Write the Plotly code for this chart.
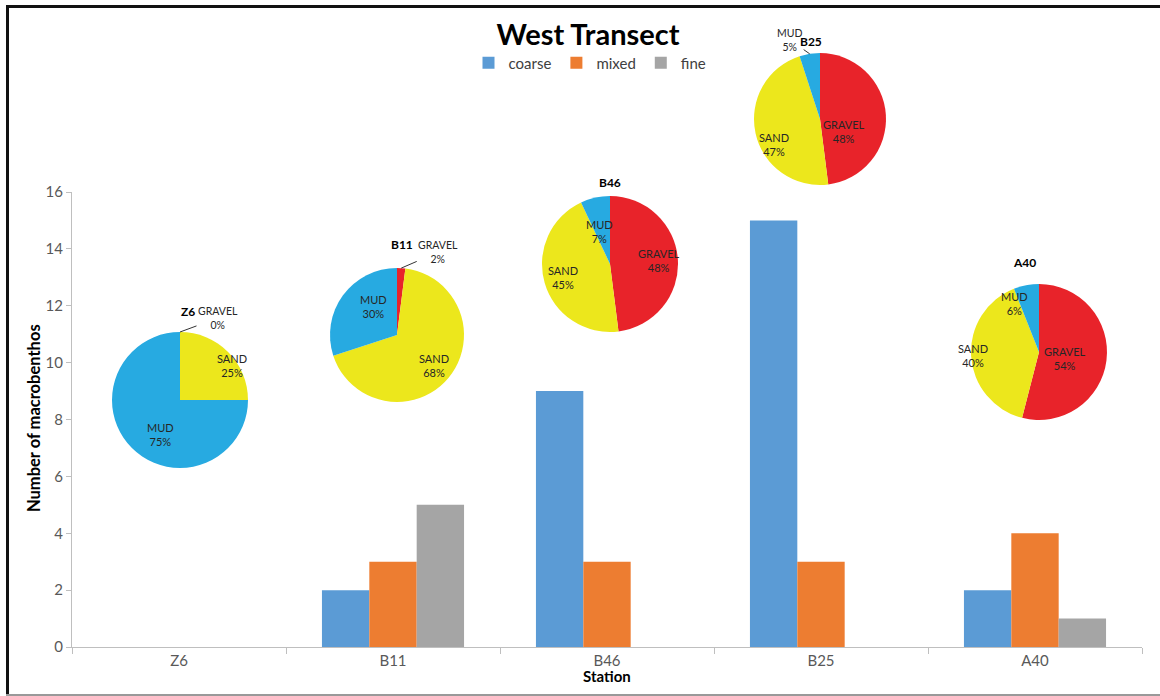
import math
import plotly.graph_objects as go

# ---------------- data ----------------
stations = ["Z6", "B11", "B46", "B25", "A40"]
coarse = [0, 2, 9, 15, 2]
mixed = [0, 3, 3, 3, 4]
fine = [0, 5, 0, 0, 1]

sediments = ["GRAVEL", "SAND", "MUD"]
gravel_pct = [0, 2, 48, 48, 54]
sand_pct = [25, 68, 45, 47, 40]
mud_pct = [75, 30, 7, 5, 6]

y_ticks = [0, 2, 4, 6, 8, 10, 12, 14, 16]

# ---------------- styling / layout helpers ----------------
W, H = 1160, 696
ML, MR, MT, MB = 72, 18, 10, 49
PW, PH = W - ML - MR, H - MT - MB
FONT = "Lato"

def xp(px):
    return (px - ML) / PW

def yp(py):
    return (H - MB - py) / PH

bar_colors = {"coarse": "#5B9BD5", "mixed": "#ED7D31", "fine": "#A5A5A5"}
sed_colors = ["#E8232A", "#ECE71C", "#27AAE1"]

# pie placement in pixels (centre x, centre y, radius)
pie_pos = [(180, 400, 68), (397, 335, 67), (610, 264, 68), (820, 119, 66), (1039, 352, 68)]
# station label positions (pixels)
title_pos = [(179, 311), (389, 245), (610, 173), (824, 32), (1038, 262)]
# offsets for small slices labelled outside (pixels)
outside_off = [(38, -14), (37, -16), (0, 0), (-20, -14), (0, 0)]

fig = go.Figure()
series = [("coarse", coarse), ("mixed", mixed), ("fine", fine)]
for name, vals in series:
    fig.add_trace(go.Bar(
        x=stations, y=vals, name=name,
        marker=dict(color=bar_colors[name], line=dict(width=0)),
        hoverinfo="x+y+name",
    ))

annotations = []
for i, st in enumerate(stations):
    cx, cy, r = pie_pos[i]
    vals = [gravel_pct[i], sand_pct[i], mud_pct[i]]
    fig.add_trace(go.Pie(
        labels=sediments, values=vals, sort=False, direction="clockwise",
        rotation=0, textinfo="none", showlegend=False,
        marker=dict(colors=sed_colors, line=dict(width=0)),
        domain=dict(x=[xp(cx - r), xp(cx + r)], y=[yp(cy + r), yp(cy - r)]),
        name=st,
    ))
    total = sum(vals)
    cum = 0
    for lab, v in zip(sediments, vals):
        mid = 2 * math.pi * (cum + v / 2) / total
        cum += v
        txt = f"{lab}<br>{v}%"
        if v <= 5:
            ex = cx + r * math.sin(mid)
            ey = cy - r * math.cos(mid)
            ox, oy = outside_off[i]
            annotations.append(dict(
                x=xp(ex), y=yp(ey), xref="paper", yref="paper",
                text=txt, showarrow=True, arrowhead=0, arrowwidth=1,
                arrowcolor="#333333", ax=ox, ay=oy, standoff=0,
                font=dict(family=FONT, size=10.5, color="#262626"),
            ))
        else:
            k = 0.72
            lx = cx + k * r * math.sin(mid)
            ly = cy - k * r * math.cos(mid)
            annotations.append(dict(
                x=xp(lx), y=yp(ly), xref="paper", yref="paper",
                text=txt, showarrow=False,
                font=dict(family=FONT, size=11, color="#262626"),
            ))
    tx, ty = title_pos[i]
    annotations.append(dict(
        x=xp(tx), y=yp(ty), xref="paper", yref="paper",
        text=f"<b>{st}</b>", showarrow=False,
        font=dict(family=FONT, size=12, color="#000000"),
    ))

# axis titles
annotations.append(dict(
    x=xp(22), y=yp(418), xref="paper", yref="paper",
    text="<b>Number of macrobenthos</b>", textangle=-90, showarrow=False,
    font=dict(family=FONT, size=16.5, color="#000000"),
))
annotations.append(dict(
    x=xp(607), y=yp(687), xref="paper", yref="paper",
    text="<b>Station</b>", showarrow=False,
    font=dict(family=FONT, size=15, color="#000000"),
))

shapes = [
    dict(type="line", xref="paper", yref="paper", x0=xp(6), x1=xp(1160),
         y0=yp(6.5), y1=yp(6.5), line=dict(color="#111111", width=3)),
    dict(type="line", xref="paper", yref="paper", x0=xp(7.5), x1=xp(7.5),
         y0=yp(5), y1=yp(696), line=dict(color="#111111", width=3)),
    dict(type="line", xref="paper", yref="paper", x0=xp(6), x1=xp(1160),
         y0=yp(695), y1=yp(695), line=dict(color="#999999", width=2)),
]

fig.update_layout(
    width=W, height=H,
    margin=dict(l=ML, r=MR, t=MT, b=MB, autoexpand=False),
    paper_bgcolor="white", plot_bgcolor="white",
    font=dict(family=FONT, color="#595959"),
    barmode="group", bargap=0.336, bargroupgap=0,
    title=dict(text="<b>West Transect</b>", x=588 / W, y=1 - 35 / H,
               xanchor="center", yanchor="middle", xref="container", yref="container",
               font=dict(family=FONT, size=29, color="#000000")),
    legend=dict(orientation="h", x=xp(590), y=yp(63), xanchor="center", yanchor="middle",
                font=dict(family=FONT, size=15, color="#404040"),
                itemwidth=30, tracegroupgap=0, bgcolor="rgba(0,0,0,0)"),
    xaxis=dict(type="category", tickson="boundaries", ticks="outside", ticklen=6,
               tickcolor="#BFBFBF", showline=True, linecolor="#BFBFBF", linewidth=1,
               showgrid=False, tickfont=dict(family=FONT, size=15, color="#595959")),
    yaxis=dict(domain=[0, yp(192)], range=[0, 16], tickvals=y_ticks, ticks="outside",
               ticklen=5, tickcolor="#BFBFBF", showline=True, linecolor="#BFBFBF",
               linewidth=1, showgrid=False, zeroline=False,
               tickfont=dict(family=FONT, size=15, color="#595959")),
    annotations=annotations,
    shapes=shapes,
)

fig.write_html("out.html", config={"displayModeBar": False},
               post_script="document.body.style.margin='0';document.body.style.overflow='hidden';")
